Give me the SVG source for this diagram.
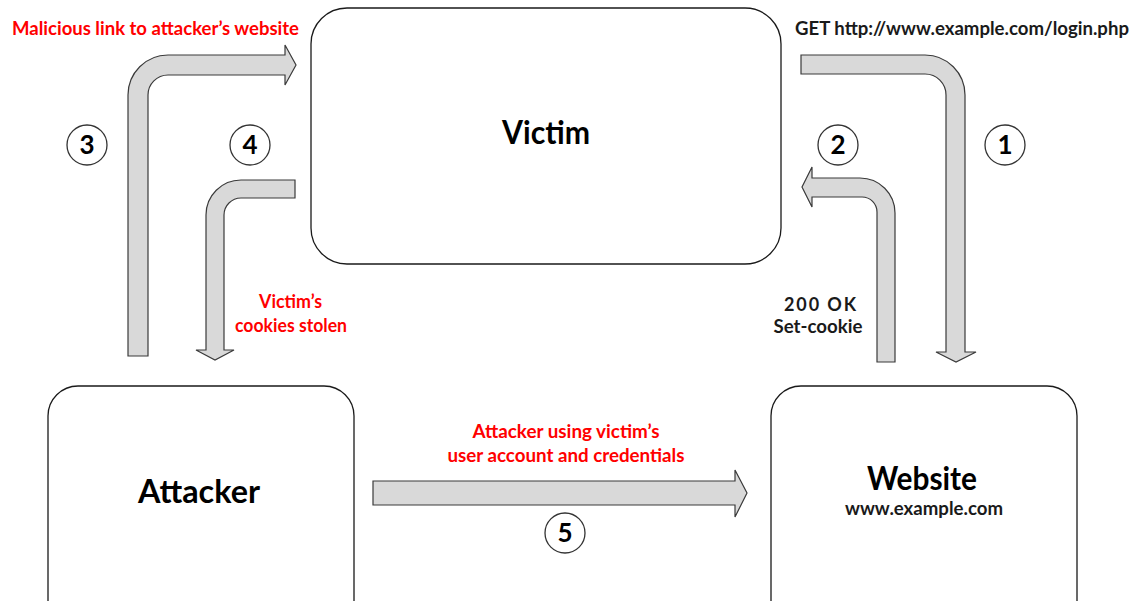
<svg xmlns="http://www.w3.org/2000/svg" width="1143" height="601" viewBox="0 0 1143 601">
  <defs>
    <style>
      .box { fill: #ffffff; stroke: #1a1a1a; stroke-width: 1.3; }
      .arrow { fill: #d9d9d9; stroke: #3a3a3a; stroke-width: 1.2; stroke-linejoin: miter; }
      .num { fill: #ffffff; stroke: #333333; stroke-width: 1.3; }
      .numtxt { font-family: Lato, "Open Sans", sans-serif; font-weight: 700; font-size: 26px; fill: #000; text-anchor: middle; }
      .title { font-family: Lato, "Open Sans", sans-serif; font-weight: 700; font-size: 32px; fill: #000; text-anchor: middle; }
      .lbl { font-family: Lato, "Open Sans", sans-serif; font-weight: 700; font-size: 18px; fill: #1a1a1a; text-anchor: middle; }
      .red { fill: #ff0000; }
    </style>
  </defs>

  <rect width="1143" height="601" fill="#ffffff"/>

  <!-- nodes -->
  <g id="victim">
    <rect class="box" x="311" y="8" width="470" height="256" rx="36" ry="36"/>
    <text class="title" x="546" y="144" textLength="88" lengthAdjust="spacingAndGlyphs">Victim</text>
  </g>
  <g id="attacker">
    <rect class="box" x="48" y="386" width="306" height="260" rx="30" ry="30"/>
    <text class="title" x="199" y="503" textLength="122" lengthAdjust="spacingAndGlyphs">Attacker</text>
  </g>
  <g id="website">
    <rect class="box" x="771" y="386" width="306" height="260" rx="30" ry="30"/>
    <text class="title" x="922" y="490" textLength="110" lengthAdjust="spacingAndGlyphs">Website</text>
    <text class="lbl" x="924" y="515" textLength="158" lengthAdjust="spacingAndGlyphs">www.example.com</text>
  </g>

  <!-- connectors -->
  <g id="connectors">
    <!-- 1: request to website -->
    <path class="arrow" d="M801,55 L925,55 A40,40 0 0 1 965,95 L965,352 L976,352 L956,362 L936,352 L946,352 L946,95 A21,21 0 0 0 925,74 L801,74 Z"/>
    <!-- 2: response back to victim -->
    <path class="arrow" d="M877,362 L877,212 A15,15 0 0 0 862,197 L812,197 L812,207 L802,187 L812,167 L812,178 L860,178 A35,35 0 0 1 895,213 L895,362 Z"/>
    <!-- 3: malicious link -->
    <path class="arrow" d="M128,356 L128,95 A40,40 0 0 1 168,55 L285,55 L285,45 L296,65 L285,85 L285,75 L168,75 A20,20 0 0 0 148,95 L148,356 Z"/>
    <!-- 4: cookies stolen -->
    <path class="arrow" d="M295,180 L241,180 A35,35 0 0 0 206,215 L206,350 L196,350 L215,360 L234,350 L224,350 L224,215 A17,17 0 0 1 241,198 L295,198 Z"/>
    <!-- 5: session reuse -->
    <path class="arrow" d="M373,481 L735,481 L735,470 L747,493 L735,517 L735,505 L373,505 Z"/>
  </g>

  <!-- step numbers -->
  <g id="steps">
    <circle class="num" cx="87" cy="145" r="20"/>
    <text class="numtxt" x="87" y="154">3</text>
    <circle class="num" cx="250" cy="145" r="20"/>
    <text class="numtxt" x="250" y="154">4</text>
    <circle class="num" cx="838" cy="145" r="20"/>
    <text class="numtxt" x="838" y="154">2</text>
    <circle class="num" cx="1005" cy="145" r="20"/>
    <text class="numtxt" x="1005" y="154">1</text>
    <circle class="num" cx="565" cy="533" r="20"/>
    <text class="numtxt" x="565" y="542">5</text>
  </g>

  <!-- labels -->
  <g id="labels">
    <text class="lbl red" x="155.5" y="35" textLength="287" lengthAdjust="spacingAndGlyphs">Malicious link to attacker’s website</text>
    <text class="lbl" x="962" y="35" textLength="334" lengthAdjust="spacingAndGlyphs">GET http://www.example.com/login.php</text>
    <text class="lbl red" x="290.5" y="308" textLength="63" lengthAdjust="spacingAndGlyphs">Victim’s</text>
    <text class="lbl red" x="291" y="332" textLength="112" lengthAdjust="spacingAndGlyphs">cookies stolen</text>
    <text class="lbl" x="820" y="311" textLength="72" lengthAdjust="spacing">200 OK</text>
    <text class="lbl" x="818" y="333" textLength="89" lengthAdjust="spacingAndGlyphs">Set-cookie</text>
    <text class="lbl red" x="566" y="438" textLength="187" lengthAdjust="spacingAndGlyphs">Attacker using victim’s</text>
    <text class="lbl red" x="566" y="462" textLength="237" lengthAdjust="spacingAndGlyphs">user account and credentials</text>
  </g>
</svg>
